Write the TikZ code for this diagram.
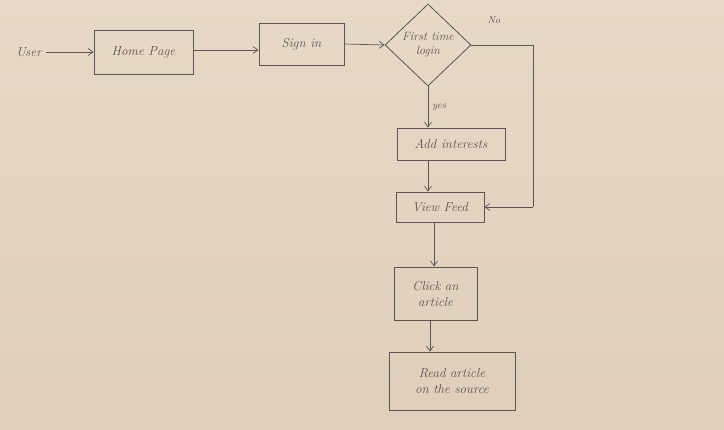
\documentclass[tikz,border=0pt]{standalone}
\usepackage{tikz}
\usetikzlibrary{shapes.geometric,arrows.meta}
\definecolor{paper}{RGB}{231,217,199}
\definecolor{paperdark}{RGB}{222,206,186}
\definecolor{pencil}{RGB}{92,86,82}
\tikzset{
  box/.style={draw=pencil, line width=0.8pt, inner sep=0pt, align=center, text=pencil},
  lbl/.style={text=pencil, inner sep=1pt},
  arr/.style={draw=pencil, line width=0.7pt, -{Straight Barb[length=5pt,width=7pt]}},
  ln/.style={draw=pencil, line width=0.7pt},
  small lbl/.style={lbl, font=\fontsize{10}{12}\selectfont\itshape},
  every node/.append style={font=\fontsize{13}{16}\selectfont\itshape}
}
\begin{document}
\begin{tikzpicture}[x=1pt,y=-1pt]
\shade[top color=paper, bottom color=paperdark] (0,0) rectangle (724,430);
\useasboundingbox (0,0) rectangle (724,430);
% nodes
\node[lbl, inner xsep=4pt] (user) at (29,52) {User};
\node[box, minimum width=99pt, minimum height=44pt] (home) at (143.5,52.5) {Home Page};
\node[box, minimum width=85pt, minimum height=42pt] (sign) at (301.5,44) {Sign in};
\node[draw=pencil, line width=0.8pt, diamond, minimum width=86pt, minimum height=82pt, inner sep=0pt, align=center, text=pencil, font=\fontsize{12}{14}\selectfont\itshape] (first) at (428,45) {First time\\login};
\node[small lbl] (no) at (494,20) {No};
\node[box, minimum width=108pt, minimum height=32pt] (add) at (451,144) {Add interests};
\node[box, minimum width=88pt, minimum height=30pt] (view) at (440,207) {View Feed};
\node[box, minimum width=83pt, minimum height=53pt] (click) at (435.5,293.5) {Click an\\article};
\node[box, minimum width=126pt, minimum height=58pt] (read) at (452,381) {Read article\\on the source};
\coordinate (c1) at (533,45);
\coordinate (c2) at (533,207);
% connectors
\draw[arr] (user.east) -- (home.west |- user.east);
\draw[arr] (home.east |- 0,50) -- (sign.west |- 0,50);
\draw[arr] (sign.east) -- (first.west);
\draw[ln] (first.east) -- (c1) -- (c2);
\draw[arr] (c2) -- (view.east);
\draw[arr] (first.south) -- (first.south |- add.north) node[small lbl, midway, right=3pt] {yes};
\draw[arr] (add.south -| 428,0) -- (view.north -| 428,0);
\draw[arr] (view.south -| 434,0) -- (click.north -| 434,0);
\draw[arr] (click.south -| 430,0) -- (read.north -| 430,0);
\end{tikzpicture}
\end{document}
